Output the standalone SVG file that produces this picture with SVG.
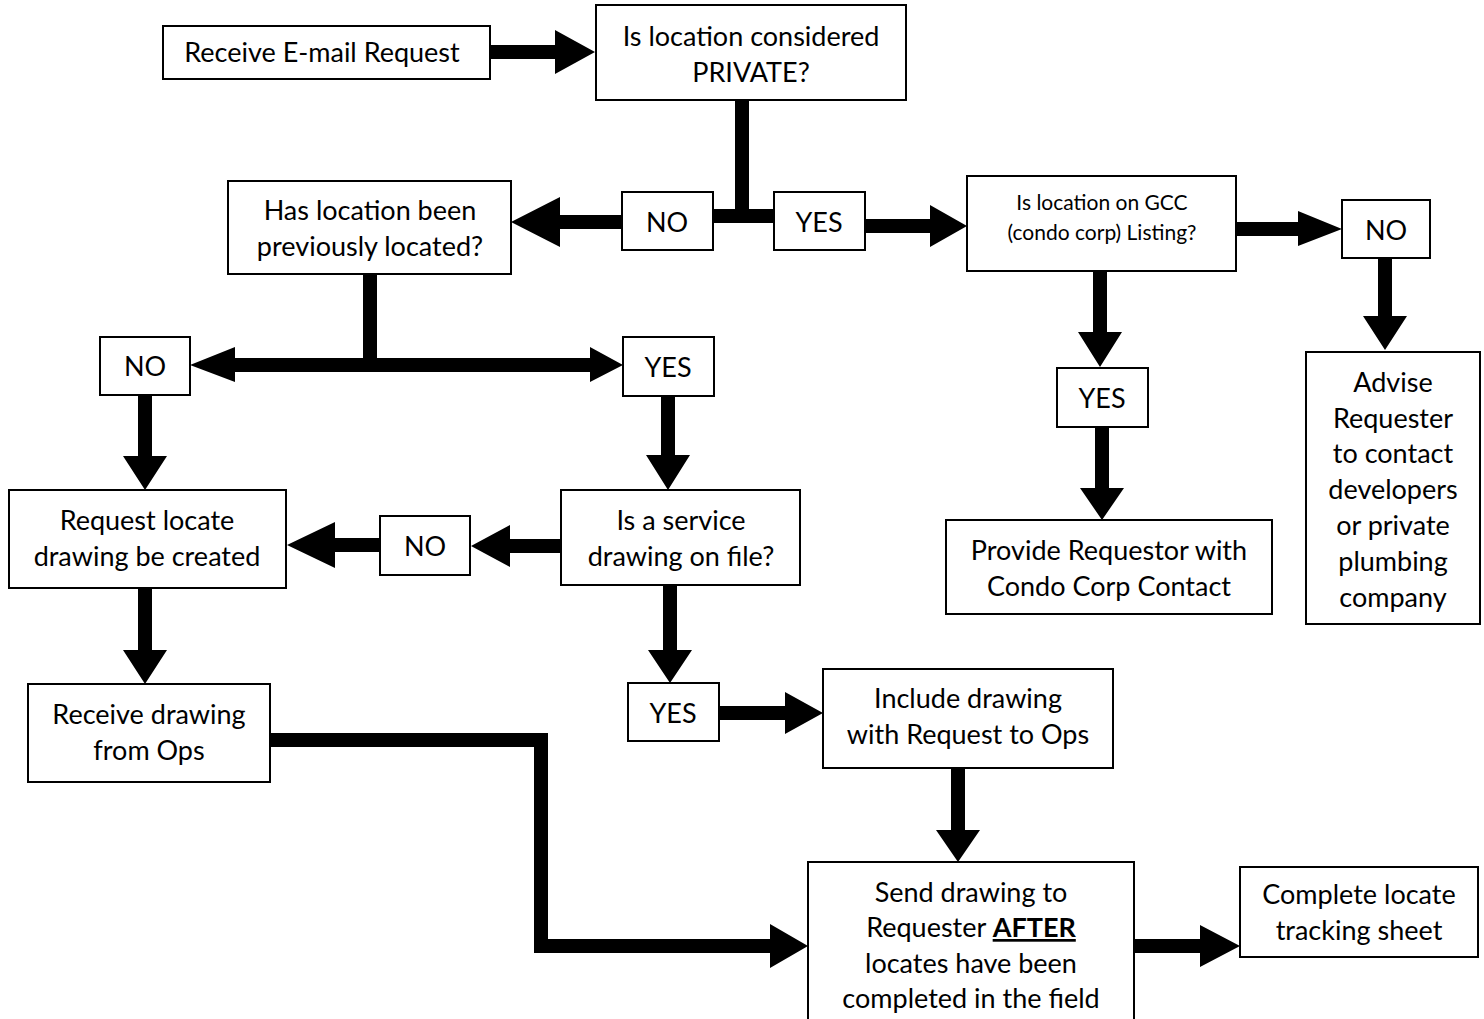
<svg xmlns="http://www.w3.org/2000/svg" width="1484" height="1019" viewBox="0 0 1484 1019">
<style>
.box{fill:#fff;stroke:#000;stroke-width:2}
.t{font-family:Lato,"Open Sans","Liberation Sans",sans-serif;font-size:27px;text-anchor:middle;fill:#000}
.s{font-size:21px}
.c{fill:#000;stroke:none}
</style>
<rect width="1484" height="1019" fill="#fff"/>
<g id="connectors">
<path class="c" d="M490 45H555V30L595 52L555 74V59H490Z"/>
<path class="c" d="M735 100H749V209H774V223H713V209H735Z"/>
<path class="c" d="M622 215H560V197L511 222L560 247V229H622Z"/>
<path class="c" d="M865 219H930V205L967 226L930 247V233H865Z"/>
<path class="c" d="M1236 222H1298V211L1342 229L1298 246V236H1236Z"/>
<path class="c" d="M1378 258H1392V316H1407L1385 350L1363 316H1378Z"/>
<path class="c" d="M1093 271H1107V332H1122L1100 367L1078 332H1093Z"/>
<path class="c" d="M1095 427H1109V488H1124L1102 520L1080 488H1095Z"/>
<path class="c" d="M363 274H377V358H590V347L623 365L590 382V372H235V382L190 365L235 347V358H363Z"/>
<path class="c" d="M138 395H152V456H167L145 490L123 456H138Z"/>
<path class="c" d="M661 396H675V455H690L668 490L646 455H661Z"/>
<path class="c" d="M561 539H510V525L471 546L510 567V553H561Z"/>
<path class="c" d="M380 538H335V522L287 545L335 568V552H380Z"/>
<path class="c" d="M138 588H152V650H167L145 684L123 650H138Z"/>
<path class="c" d="M663 585H677V650H692L670 683L648 650H663Z"/>
<path class="c" d="M719 706H785V692L823 713L785 734V720H719Z"/>
<path class="c" d="M951 768H965V830H980L958 862L936 830H951Z"/>
<path class="c" d="M270 733H548V939H770V924L808 946L770 968V953H534V747H270Z"/>
<path class="c" d="M1134 939H1200V925L1240 946L1200 967V953H1134Z"/>
</g>
<g id="n1"><rect class="box" x="163" y="26" width="327" height="53"/><text class="t" x="322" y="62">Receive E-mail Request</text></g>
<g id="n2"><rect class="box" x="596" y="5" width="310" height="95"/><text class="t" x="751" y="46">Is location considered</text><text class="t" x="751" y="82">PRIVATE?</text></g>
<g id="n3"><rect class="box" x="228" y="181" width="283" height="93"/><text class="t" x="370" y="220">Has location been</text><text class="t" x="370" y="256">previously located?</text></g>
<g id="no1"><rect class="box" x="622" y="192" width="91" height="58"/><text class="t" x="667" y="232">NO</text></g>
<g id="yes1"><rect class="box" x="774" y="192" width="91" height="58"/><text class="t" x="819" y="232">YES</text></g>
<g id="n4"><rect class="box" x="967" y="176" width="269" height="95"/><text class="t s" x="1102" y="210">Is location on GCC</text><text class="t s" x="1102" y="240">(condo corp) Listing?</text></g>
<g id="no2"><rect class="box" x="1342" y="200" width="88" height="58"/><text class="t" x="1386" y="240">NO</text></g>
<g id="n5"><rect class="box" x="1306" y="352" width="174" height="272"/>
<text class="t" x="1393" y="392">Advise</text><text class="t" x="1393" y="428">Requester</text><text class="t" x="1393" y="463">to contact</text><text class="t" x="1393" y="499">developers</text><text class="t" x="1393" y="535">or private</text><text class="t" x="1393" y="571">plumbing</text><text class="t" x="1393" y="607">company</text></g>
<g id="yes2"><rect class="box" x="1057" y="368" width="91" height="59"/><text class="t" x="1102" y="408">YES</text></g>
<g id="n6"><rect class="box" x="946" y="520" width="326" height="94"/><text class="t" x="1109" y="560">Provide Requestor with</text><text class="t" x="1109" y="596">Condo Corp Contact</text></g>
<g id="no3"><rect class="box" x="100" y="337" width="90" height="58"/><text class="t" x="145" y="376">NO</text></g>
<g id="yes3"><rect class="box" x="623" y="337" width="91" height="59"/><text class="t" x="668" y="377">YES</text></g>
<g id="n7"><rect class="box" x="9" y="490" width="277" height="98"/><text class="t" x="147" y="530">Request locate</text><text class="t" x="147" y="566">drawing be created</text></g>
<g id="n8"><rect class="box" x="561" y="490" width="239" height="95"/><text class="t" x="681" y="530">Is a service</text><text class="t" x="681" y="566">drawing on file?</text></g>
<g id="no4"><rect class="box" x="380" y="516" width="90" height="59"/><text class="t" x="425" y="556">NO</text></g>
<g id="n9"><rect class="box" x="28" y="684" width="242" height="98"/><text class="t" x="149" y="724">Receive drawing</text><text class="t" x="149" y="760">from Ops</text></g>
<g id="yes4"><rect class="box" x="628" y="683" width="91" height="58"/><text class="t" x="673" y="723">YES</text></g>
<g id="n10"><rect class="box" x="823" y="669" width="290" height="99"/><text class="t" x="968" y="708">Include drawing</text><text class="t" x="968" y="744">with Request to Ops</text></g>
<g id="n11"><rect class="box" x="808" y="862" width="326" height="170"/><text class="t" x="971" y="902">Send drawing to</text><text class="t" x="971" y="937">Requester <tspan font-weight="bold" text-decoration="underline">AFTER</tspan></text><text class="t" x="971" y="973">locates have been</text><text class="t" x="971" y="1008">completed in the field</text></g>
<g id="n12"><rect class="box" x="1240" y="867" width="238" height="90"/><text class="t" x="1359" y="904">Complete locate</text><text class="t" x="1359" y="940">tracking sheet</text></g>
</svg>
